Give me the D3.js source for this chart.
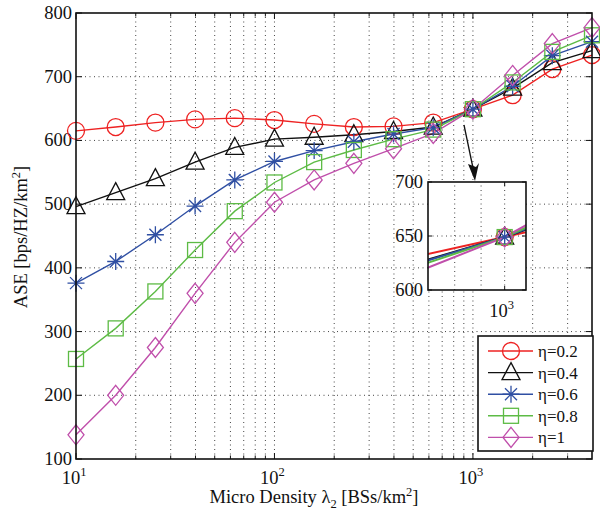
<!DOCTYPE html>
<html><head><meta charset="utf-8">
<script src="https://cdn.jsdelivr.net/npm/d3@7"></script>
<style>body{margin:0;background:#fff}svg{display:block}text{font-family:"Liberation Serif","Times New Roman",serif;fill:#111}</style>
</head><body><svg id="c" width="600" height="520"></svg>
<script>
const xValues = [10, 15.85, 25.12, 39.81, 63.1, 100, 158.5, 251.2, 398.1, 631, 1000, 1585, 2512, 3981];
const eta02 = [615, 621, 628, 633, 635, 632, 626, 621, 622, 628, 649, 671, 712, 734];
const eta04 = [496, 518, 540, 566, 589, 602, 605, 609, 614, 621, 649, 682, 722, 741];
const eta06 = [376, 410, 452, 497, 538, 567, 584, 598, 610, 620, 649, 685, 733, 755];
const eta08 = [257, 305, 363, 428, 489, 534, 566, 585, 602, 617, 649, 691, 739, 765];
const eta1  = [138, 200, 275, 360, 440, 503, 538, 564, 587, 611, 649, 702, 752, 777];
const seriesNames = ["η=0.2", "η=0.4", "η=0.6", "η=0.8", "η=1"];
const seriesColors = ["#ee2222", "#111111", "#2f4fa3", "#5dbb45", "#c04fab"];
const seriesMarkers = ["circle", "triangle", "star", "square", "diamond"];
const yTicks = [100, 200, 300, 400, 500, 600, 700, 800];
const xMajorTicks = [10, 100, 1000];
const xMajorExp = ["1", "2", "3"];
const insetYTicks = [600, 650, 700];
const insetXGrid = [800, 900, 1000];

const allSeries = [eta02, eta04, eta06, eta08, eta1];
const svg = d3.select("#c");
const L = 76, R = 592, T = 13, B = 459;
const FS = 18.5, SFS = 12.5;
const x = d3.scaleLog().domain([10, Math.pow(10, 3.6)]).range([L, R]);
const y = d3.scaleLinear().domain([100, 800]).range([B, T]);

function minorTicks(dom) {
  const out = [];
  for (let e = 1; e <= 3; e++) for (let m = 1; m <= 9; m++) {
    const v = m * Math.pow(10, e);
    if (v >= dom[0] && v <= dom[1]) out.push(v);
  }
  return out;
}
const xAll = minorTicks(x.domain());

// grid
const grid = svg.append("g").attr("stroke", "#444").attr("stroke-width", 1).attr("stroke-dasharray", "1,3.5");
xAll.forEach(v => { if (v > 10) grid.append("line").attr("x1", x(v)).attr("x2", x(v)).attr("y1", B).attr("y2", T); });
yTicks.forEach(v => { if (v > 100 && v < 800) grid.append("line").attr("y1", y(v)).attr("y2", y(v)).attr("x1", L).attr("x2", R); });

// ticks inward
const tk = svg.append("g").attr("stroke", "#111").attr("stroke-width", 1);
xAll.forEach(v => {
  const len = xMajorTicks.includes(v) ? 6 : 3.5;
  tk.append("line").attr("x1", x(v)).attr("x2", x(v)).attr("y1", B).attr("y2", B - len);
  tk.append("line").attr("x1", x(v)).attr("x2", x(v)).attr("y1", T).attr("y2", T + len);
});
yTicks.forEach(v => {
  tk.append("line").attr("x1", L).attr("x2", L + 6).attr("y1", y(v)).attr("y2", y(v));
  tk.append("line").attr("x1", R).attr("x2", R - 6).attr("y1", y(v)).attr("y2", y(v));
});

// tick labels
yTicks.forEach(v => {
  svg.append("text").attr("x", L - 4).attr("y", y(v) + 6).attr("text-anchor", "end").attr("font-size", FS).text(v);
});
xMajorTicks.forEach((v, i) => {
  const t = svg.append("text").attr("x", x(v) - 2).attr("y", 484).attr("text-anchor", "middle").attr("font-size", FS);
  t.append("tspan").text("10");
  t.append("tspan").attr("dy", -8).attr("font-size", SFS).text(xMajorExp[i]);
});

// axis labels
const xl = svg.append("text").attr("x", 314).attr("y", 503).attr("text-anchor", "middle").attr("font-size", FS);
xl.append("tspan").text("Micro Density λ");
xl.append("tspan").attr("dy", 5).attr("font-size", SFS).text("2");
xl.append("tspan").attr("dy", -5).text(" [BSs/km");
xl.append("tspan").attr("dy", -7).attr("font-size", SFS).text("2");
xl.append("tspan").attr("dy", 7).text("]");
const yl = svg.append("text").attr("transform", "translate(27,237) rotate(-90)").attr("text-anchor", "middle").attr("font-size", FS);
yl.append("tspan").text("ASE [bps/HZ/km");
yl.append("tspan").attr("dy", -7).attr("font-size", SFS).text("2");
yl.append("tspan").attr("dy", 7).text("]");

// marker drawing
function drawMarker(g, type, cx, cy, color) {
  const s = g.append("g").attr("transform", `translate(${cx},${cy})`).attr("fill", "none").attr("stroke", color).attr("stroke-width", 1.3);
  if (type === "circle") s.append("circle").attr("r", 8.5);
  else if (type === "triangle") s.append("path").attr("d", "M0,-10 L9,7 L-9,7 Z");
  else if (type === "square") s.append("rect").attr("x", -7.5).attr("y", -7.5).attr("width", 15).attr("height", 15);
  else if (type === "diamond") s.append("path").attr("d", "M0,-10 L8,0 L0,10 L-8,0 Z");
  else if (type === "star") {
    s.append("path").attr("d", "M0,-8.5 V8.5 M-8.5,0 H8.5 M-6,-6 L6,6 M-6,6 L6,-6");
  }
}

// lines
const line = d3.line().x(d => x(d[0])).y(d => y(d[1]));
allSeries.forEach((vals, i) => {
  const pts = xValues.map((xv, j) => [xv, vals[j]]);
  svg.append("path").datum(pts).attr("d", line).attr("fill", "none").attr("stroke", seriesColors[i]).attr("stroke-width", 1.4);
});
allSeries.forEach((vals, i) => {
  const g = svg.append("g");
  xValues.forEach((xv, j) => drawMarker(g, seriesMarkers[i], x(xv), y(vals[j]), seriesColors[i]));
});

// box
svg.append("rect").attr("x", L).attr("y", T).attr("width", R - L).attr("height", B - T).attr("fill", "none").attr("stroke", "#111").attr("stroke-width", 1.6);

// arrow
svg.append("line").attr("x1", 464).attr("y1", 125).attr("x2", 473).attr("y2", 168).attr("stroke", "#111").attr("stroke-width", 1.3);
svg.append("path").attr("d", "M475,181 L468,164 L476,167 L479,163 Z").attr("fill", "#111");

// inset
const iL = 428, iR = 526, iT = 182, iB = 290;
const xi = d3.scaleLog().domain([710, 1100]).range([iL, iR]);
const yi = d3.scaleLinear().domain([600, 700]).range([iB, iT]);
svg.append("rect").attr("x", iL).attr("y", iT).attr("width", iR - iL).attr("height", iB - iT).attr("fill", "#fff");
const ig = svg.append("g").attr("stroke", "#444").attr("stroke-width", 1).attr("stroke-dasharray", "1,3.5");
insetXGrid.forEach(v => ig.append("line").attr("x1", xi(v)).attr("x2", xi(v)).attr("y1", iB).attr("y2", iT));
ig.append("line").attr("x1", iL).attr("x2", iR).attr("y1", yi(650)).attr("y2", yi(650));
svg.append("clipPath").attr("id", "ic").append("rect").attr("x", iL).attr("y", iT).attr("width", iR - iL).attr("height", iB - iT);
const iline = d3.line().x(d => xi(d[0])).y(d => yi(d[1]));
const ilg = svg.append("g").attr("clip-path", "url(#ic)");
allSeries.forEach((vals, i) => {
  const pts = xValues.map((xv, j) => [xv, vals[j]]);
  ilg.append("path").datum(pts).attr("d", iline).attr("fill", "none").attr("stroke", seriesColors[i]).attr("stroke-width", 2);
});
allSeries.forEach((vals, i) => {
  const g = svg.append("g");
  xValues.forEach((xv, j) => { if (xv >= 710 && xv <= 1100) drawMarker(g, seriesMarkers[i], xi(xv), yi(vals[j]), seriesColors[i]); });
});
const itk = svg.append("g").attr("stroke", "#111").attr("stroke-width", 1);
insetYTicks.forEach(v => {
  itk.append("line").attr("x1", iL).attr("x2", iL + 4).attr("y1", yi(v)).attr("y2", yi(v));
  itk.append("line").attr("x1", iR).attr("x2", iR - 4).attr("y1", yi(v)).attr("y2", yi(v));
  svg.append("text").attr("x", iL - 5).attr("y", yi(v) + 6).attr("text-anchor", "end").attr("font-size", FS).text(v);
});
itk.append("line").attr("x1", xi(1000)).attr("x2", xi(1000)).attr("y1", iB).attr("y2", iB - 4);
itk.append("line").attr("x1", xi(1000)).attr("x2", xi(1000)).attr("y1", iT).attr("y2", iT + 4);
const il = svg.append("text").attr("x", xi(1000) - 3).attr("y", 317).attr("text-anchor", "middle").attr("font-size", FS);
il.append("tspan").text("10");
il.append("tspan").attr("dy", -8).attr("font-size", SFS).text("3");
svg.append("rect").attr("x", iL).attr("y", iT).attr("width", iR - iL).attr("height", iB - iT).attr("fill", "none").attr("stroke", "#111").attr("stroke-width", 1.6);

// legend
const lgX = 478, lgY = 336, lgW = 115, lgH = 115;
svg.append("rect").attr("x", lgX).attr("y", lgY).attr("width", lgW).attr("height", lgH).attr("fill", "#fff").attr("stroke", "#111").attr("stroke-width", 1.6);
seriesNames.forEach((n, i) => {
  const cy = 351 + i * 21.6;
  svg.append("line").attr("x1", 488).attr("x2", 533).attr("y1", cy).attr("y2", cy).attr("stroke", seriesColors[i]).attr("stroke-width", 1.4);
  drawMarker(svg, seriesMarkers[i], 511, cy, seriesColors[i]);
  svg.append("text").attr("x", 538).attr("y", cy + 6).attr("font-size", 17).text(n);
});
</script></body></html>
